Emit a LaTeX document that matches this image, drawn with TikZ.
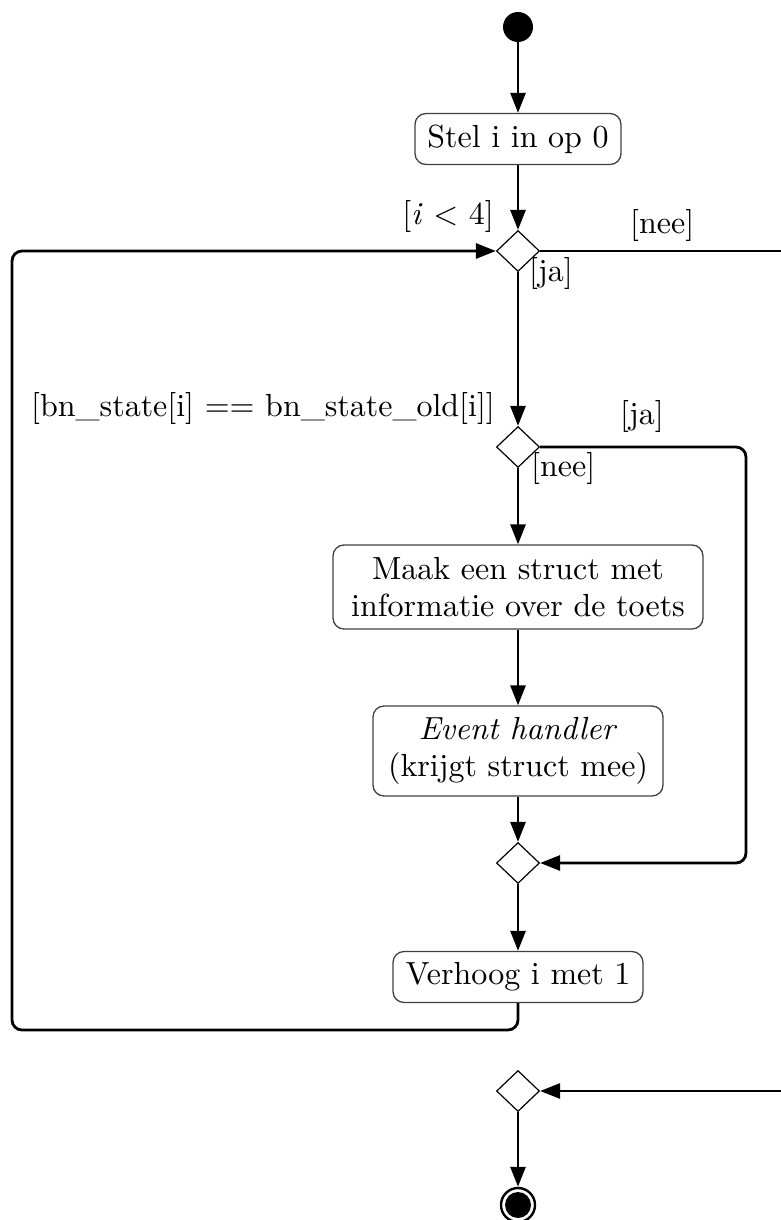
\documentclass[tikz,border=0pt]{standalone}
\usepackage{fontspec}
\setmainfont{lmroman10-regular.otf}[ItalicFont=lmroman10-italic.otf,BoldFont=lmroman10-bold.otf]
\usetikzlibrary{arrows.meta,shapes.geometric}
\begin{document}
\begin{tikzpicture}[x=1pt,y=-1pt,
  every node/.style={font=\fontsize{32}{37}\selectfont},
  actbox/.style={draw=black!75,line width=1.3pt,rounded corners=11pt,align=center,inner sep=0pt},
  decis/.style={draw,diamond,line width=1.2pt,minimum width=43pt,minimum height=41pt,inner sep=0pt},
  conn/.style={line width=2.8pt,-{Triangle[length=20pt,width=15pt]}},
  plainconn/.style={line width=2.8pt},
  lbl/.style={inner sep=0pt}]
\useasboundingbox (0,0) rectangle (781,1220);
\clip (0,0) rectangle (781,1220);
\node[circle,fill=black,minimum size=30pt,inner sep=0pt] (start) at (518,27) {};
\node[actbox,minimum width=206pt,minimum height=51pt] (stel) at (518,139) {Stel i in op 0};
\node[decis] (d1) at (518,251) {};
\node[decis] (d2) at (518,447) {};
\node[actbox,minimum width=370pt,minimum height=84pt] (maak) at (518,587) {Maak een struct met\\informatie over de toets};
\node[actbox,minimum width=290pt,minimum height=90pt] (evt) at (518,751) {\textit{Event handler}\\(krijgt struct mee)};
\node[decis] (d3) at (518,863) {};
\node[actbox,minimum width=250pt,minimum height=51pt] (verh) at (518,977) {Verhoog i met 1};
\node[decis] (d4) at (518,1091) {};
\node[circle,draw=black,line width=2.4pt,minimum size=34pt,inner sep=0pt] (endo) at (518,1205) {};
\node[circle,fill=black,minimum size=26pt,inner sep=0pt] (endi) at (518,1205) {};
\coordinate (r1) at (800,251);
\coordinate (r2) at (800,1091);
% labels
\node[lbl,anchor=base east] (l1) at (494,224) {[\textit{i} < 4]};
\node[lbl,anchor=base west] (l2) at (630,233) {[nee]};
\node[lbl,anchor=base west] (l3) at (529,281) {[ja]};
\node[lbl,anchor=base east] (l4) at (495,416) {[bn\_state[i] == bn\_state\_old[i]]};
\node[lbl,anchor=base west] (l5) at (620,424) {[ja]};
\node[lbl,anchor=base west] (l6) at (531,476) {[nee]};
% connectors
\draw[conn] (start) -- (stel);
\draw[conn] (stel) -- (d1);
\draw[plainconn] (d1.east) -- (r1);
\draw[conn] (d1) -- (d2);
\draw[conn] (d2) -- (maak);
\draw[conn,rounded corners=10pt] (d2.east) -| (746,650) |- (d3.east);
\draw[conn] (maak) -- (evt);
\draw[conn] (evt) -- (d3);
\draw[conn] (d3) -- (verh);
\draw[conn,rounded corners=10pt] (verh.south) |- (12,1030) |- (d1.west);
\draw[conn] (r2) -- (d4.east);
\draw[conn] (d4) -- (endo);
\end{tikzpicture}
\end{document}
